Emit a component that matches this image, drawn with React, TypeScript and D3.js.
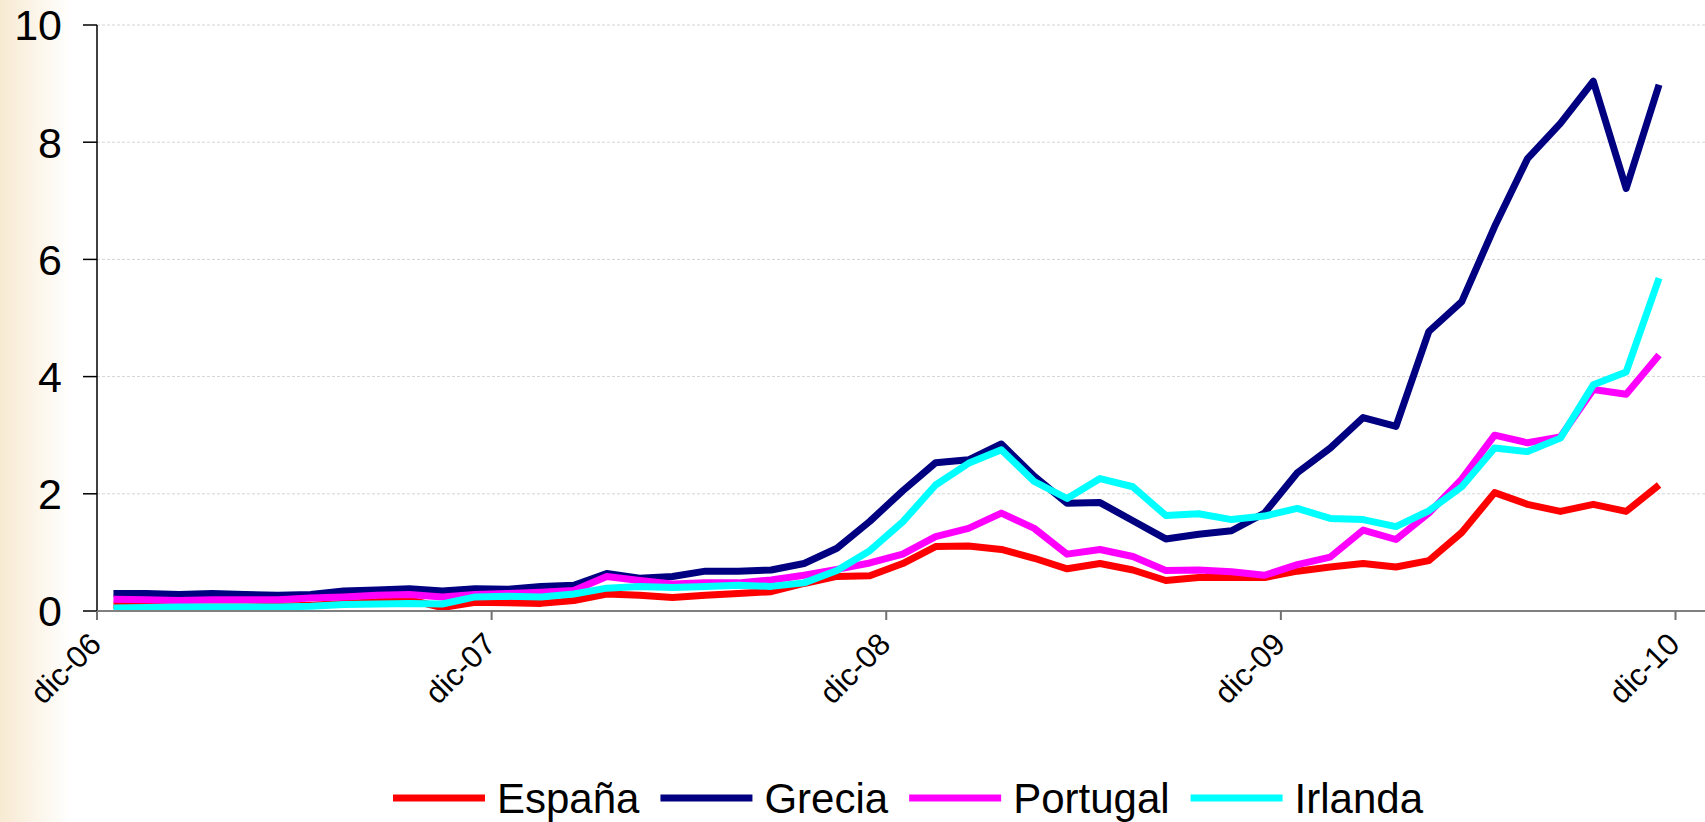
import * as React from 'react'
import * as d3 from 'd3'

const months = [
  'dic-06', 'ene-07', 'feb-07', 'mar-07', 'abr-07', 'may-07', 'jun-07', 'jul-07', 'ago-07', 'sep-07', 'oct-07', 'nov-07',
  'dic-07', 'ene-08', 'feb-08', 'mar-08', 'abr-08', 'may-08', 'jun-08', 'jul-08', 'ago-08', 'sep-08', 'oct-08', 'nov-08',
  'dic-08', 'ene-09', 'feb-09', 'mar-09', 'abr-09', 'may-09', 'jun-09', 'jul-09', 'ago-09', 'sep-09', 'oct-09', 'nov-09',
  'dic-09', 'ene-10', 'feb-10', 'mar-10', 'abr-10', 'may-10', 'jun-10', 'jul-10', 'ago-10', 'sep-10', 'oct-10', 'nov-10',
]
const xTicks = ['dic-06', 'dic-07', 'dic-08', 'dic-09', 'dic-10']
const yTicks = [0, 2, 4, 6, 8, 10]

const espana = [
  0.10, 0.08, 0.07, 0.07, 0.07, 0.08, 0.10, 0.13, 0.16, 0.19, 0.06, 0.15,
  0.14, 0.13, 0.18, 0.29, 0.27, 0.23, 0.27, 0.30, 0.33, 0.47, 0.59, 0.60,
  0.81, 1.10, 1.11, 1.05, 0.90, 0.72, 0.81, 0.70, 0.52, 0.57, 0.57, 0.57,
  0.68, 0.75, 0.81, 0.75, 0.86, 1.34, 2.02, 1.82, 1.70, 1.82, 1.70, 2.15,
]
const grecia = [
  0.30, 0.30, 0.28, 0.30, 0.28, 0.27, 0.28, 0.34, 0.36, 0.38, 0.34, 0.38,
  0.37, 0.42, 0.44, 0.64, 0.56, 0.59, 0.68, 0.68, 0.70, 0.81, 1.07, 1.53,
  2.05, 2.53, 2.58, 2.85, 2.30, 1.84, 1.85, 1.54, 1.23, 1.31, 1.37, 1.67,
  2.36, 2.78, 3.30, 3.15, 4.77, 5.28, 6.56, 7.72, 8.32, 9.04, 7.21, 8.98,
]
const portugal = [
  0.20, 0.19, 0.18, 0.19, 0.19, 0.19, 0.22, 0.24, 0.27, 0.28, 0.24, 0.28,
  0.30, 0.32, 0.35, 0.59, 0.52, 0.46, 0.48, 0.48, 0.53, 0.61, 0.71, 0.82,
  0.97, 1.27, 1.41, 1.67, 1.41, 0.97, 1.05, 0.93, 0.69, 0.70, 0.67, 0.61,
  0.79, 0.92, 1.38, 1.22, 1.67, 2.25, 3.00, 2.87, 2.97, 3.78, 3.70, 4.37,
]
const irlanda = [
  0.05, 0.06, 0.07, 0.07, 0.07, 0.07, 0.08, 0.11, 0.12, 0.13, 0.12, 0.24,
  0.25, 0.24, 0.29, 0.39, 0.42, 0.40, 0.42, 0.44, 0.42, 0.48, 0.69, 1.03,
  1.52, 2.15, 2.52, 2.75, 2.21, 1.92, 2.26, 2.12, 1.63, 1.66, 1.56, 1.62,
  1.75, 1.58, 1.56, 1.44, 1.71, 2.12, 2.78, 2.72, 2.95, 3.86, 4.08, 5.68,
]

const series = [
  { name: 'España', color: '#FF0000', values: espana },
  { name: 'Grecia', color: '#000080', values: grecia },
  { name: 'Portugal', color: '#FF00FF', values: portugal },
  { name: 'Irlanda', color: '#00FFFF', values: irlanda },
]

const WIDTH = 1705
const HEIGHT = 822
const FONT = '"Liberation Sans", Arial, sans-serif'

export default function App() {
  const ref = React.useRef<SVGSVGElement>(null)

  React.useEffect(() => {
    const svg = d3.select(ref.current)
    svg.selectAll('*').remove()

    const left = 97
    const plotRight = 1675.5
    const top = 25
    const bottom = 611

    // one band per month, ticks on band edges every 12 months
    const x = d3.scaleBand<string>().domain(months).range([left, plotRight]).paddingInner(0).paddingOuter(0)
    const tickX = (i: number) => left + i * 12 * x.bandwidth()
    const y = d3.scaleLinear().domain([0, 10]).range([bottom, top])

    const defs = svg.append('defs')
    const grad = defs.append('linearGradient').attr('id', 'bg').attr('x1', 0).attr('x2', 1).attr('y1', 0).attr('y2', 0)
    grad.append('stop').attr('offset', 0).attr('stop-color', '#F8EAD2')
    grad.append('stop').attr('offset', 1).attr('stop-color', '#FFFFFF')

    svg.append('rect').attr('width', WIDTH).attr('height', HEIGHT).attr('fill', '#fff')
    svg.append('rect').attr('width', 70).attr('height', HEIGHT).attr('fill', 'url(#bg)')

    // gridlines
    svg
      .append('g')
      .selectAll('line')
      .data(yTicks.filter((d) => d > 0))
      .enter()
      .append('line')
      .attr('x1', left)
      .attr('x2', WIDTH)
      .attr('y1', (d) => y(d))
      .attr('y2', (d) => y(d))
      .attr('stroke', '#D4D4D4')
      .attr('stroke-width', 1)
      .attr('stroke-dasharray', '3,2')

    // y axis
    const yAxis = svg.append('g')
    yAxis.append('line').attr('x1', left).attr('x2', left).attr('y1', top).attr('y2', bottom).attr('stroke', '#000').attr('stroke-width', 1.5)
    yAxis
      .selectAll('line.tick')
      .data(yTicks)
      .enter()
      .append('line')
      .attr('class', 'tick')
      .attr('x1', left - 14)
      .attr('x2', left)
      .attr('y1', (d) => y(d))
      .attr('y2', (d) => y(d))
      .attr('stroke', '#000')
      .attr('stroke-width', 1.5)
    yAxis
      .selectAll('text')
      .data(yTicks)
      .enter()
      .append('text')
      .attr('x', 62)
      .attr('y', (d) => y(d))
      .attr('dy', '0.36em')
      .attr('text-anchor', 'end')
      .attr('font-family', FONT)
      .attr('font-size', 43)
      .attr('fill', '#000')
      .text((d) => d)

    // lines
    const line = d3
      .line<number>()
      .x((d, i) => (x(months[i]) as number) + x.bandwidth() / 2)
      .y((d) => y(d))

    svg
      .append('g')
      .selectAll('path')
      .data(series)
      .enter()
      .append('path')
      .attr('d', (s) => line(s.values))
      .attr('fill', 'none')
      .attr('stroke', (s) => s.color)
      .attr('stroke-width', 7)
      .attr('stroke-linejoin', 'round')
      .attr('stroke-linecap', 'butt')

    // x axis
    const xAxis = svg.append('g')
    xAxis.append('line').attr('x1', left).attr('x2', WIDTH).attr('y1', bottom).attr('y2', bottom).attr('stroke', '#808080').attr('stroke-width', 2)
    xAxis
      .selectAll('line.tick')
      .data(xTicks)
      .enter()
      .append('line')
      .attr('class', 'tick')
      .attr('x1', (d, i) => tickX(i))
      .attr('x2', (d, i) => tickX(i))
      .attr('y1', bottom)
      .attr('y2', bottom + 9)
      .attr('stroke', '#707070')
      .attr('stroke-width', 2)
    xAxis
      .selectAll('text')
      .data(xTicks)
      .enter()
      .append('text')
      .attr('transform', (d, i) => `translate(${tickX(i) + 6},${bottom + 35}) rotate(-45)`)
      .attr('text-anchor', 'end')
      .attr('font-family', FONT)
      .attr('font-size', 31)
      .attr('fill', '#000')
      .text((d) => d)

    // legend
    const legend = svg.append('g')
    let cursor = 0
    series.forEach((s) => {
      const item = legend.append('g').attr('transform', `translate(${cursor},0)`)
      item.append('line').attr('x1', 0).attr('x2', 92).attr('y1', 0).attr('y2', 0).attr('stroke', s.color).attr('stroke-width', 7)
      const t = item
        .append('text')
        .attr('x', 104)
        .attr('y', 0)
        .attr('dy', '0.36em')
        .attr('font-family', FONT)
        .attr('font-size', 42)
        .attr('fill', '#000')
        .text(s.name)
      const w = (t.node() as SVGTextElement).getComputedTextLength()
      cursor += 104 + w + 21
    })
    const total = cursor - 21
    legend.attr('transform', `translate(${908 - total / 2},798)`)
  }, [])

  return (
    <div style={{ position: 'absolute', left: 0, top: 0 }}>
      <svg ref={ref} width={WIDTH} height={HEIGHT} style={{ display: 'block' }} />
    </div>
  )
}
